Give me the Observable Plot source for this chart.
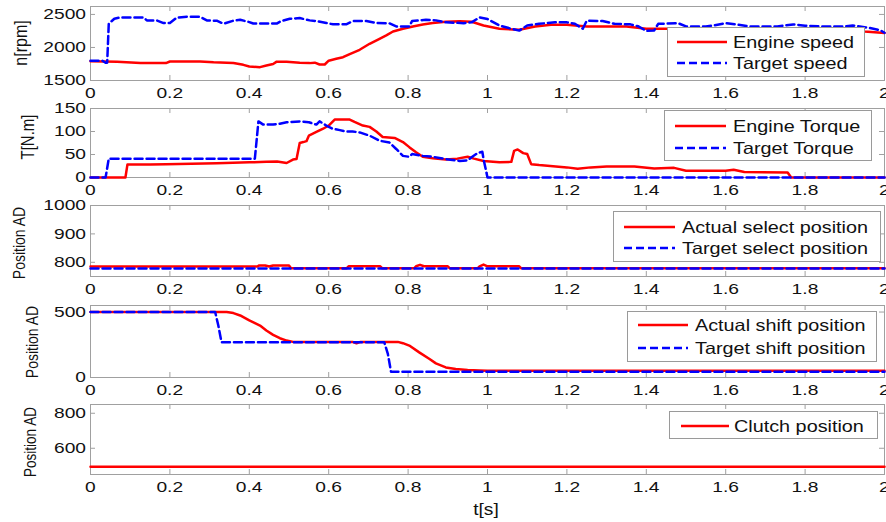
<!DOCTYPE html>
<html><head><meta charset="utf-8">
<script src="https://cdn.jsdelivr.net/npm/d3@7"></script>
<script src="https://cdn.jsdelivr.net/npm/@observablehq/plot@0.6"></script>
<style>
body{margin:0;background:#fff;}
#fig{position:relative;width:886px;height:522px;font-family:"Liberation Sans",Arial,sans-serif;overflow:hidden;background:#fff;}
.legend{position:absolute;background:#fff;border:1px solid #9a9a9a;box-sizing:border-box;}
.legend svg{position:absolute;overflow:visible;}
.legend span{position:absolute;white-space:nowrap;font-size:16.5px;line-height:1;transform-origin:left center;transform:translateY(-50%) scaleX(1.2);color:#111;}
.ytitle{position:absolute;white-space:nowrap;line-height:1;transform:translate(-50%,-50%) rotate(-90deg) scaleY(1.2);color:#111;}
.xtitle{position:absolute;white-space:nowrap;line-height:1;transform:translate(-50%,-50%) scaleX(1.2);color:#111;font-size:16px;}
</style></head><body><div id="fig"></div><script>
// ---------- data ----------
const xTicks = [0, 0.2, 0.4, 0.6, 0.8, 1, 1.2, 1.4, 1.6, 1.8, 2];
const xTickLabels = ["0", "0.2", "0.4", "0.6", "0.8", "1", "1.2", "1.4", "1.6", "1.8", "2"];

const speedTicks = [1500, 2000, 2500];
const torqueTicks = [0, 50, 100, 150];
const selectTicks = [800, 900, 1000];
const shiftTicks = [0, 500];
const clutchTicks = [600, 800];

const tEngineSpeed = [0, 0.067, 0.126, 0.19, 0.2, 0.276, 0.31, 0.36, 0.385, 0.4, 0.427, 0.443, 0.46, 0.469, 0.494, 0.527, 0.552, 0.565, 0.577, 0.59, 0.6, 0.619, 0.636, 0.653, 0.678, 0.703, 0.728, 0.745, 0.762, 0.787, 0.812, 0.837, 0.862, 0.895, 0.93, 0.96, 0.99, 1.03, 1.08, 1.12, 1.16, 1.2, 1.25, 1.35, 1.4, 1.5, 1.6, 1.7, 1.8, 1.9, 1.95, 2.0];
const engineSpeed = [1790, 1785, 1765, 1763, 1788, 1788, 1775, 1765, 1737, 1712, 1702, 1727, 1750, 1785, 1785, 1768, 1763, 1770, 1742, 1742, 1800, 1828, 1853, 1900, 1965, 2056, 2131, 2182, 2242, 2283, 2318, 2348, 2369, 2390, 2395, 2390, 2333, 2283, 2268, 2318, 2345, 2345, 2318, 2318, 2283, 2283, 2285, 2283, 2283, 2280, 2240, 2220];

const tTargetSpeed = [0, 0.03, 0.038, 0.042, 0.046, 0.06, 0.075, 0.134, 0.142, 0.167, 0.184, 0.2, 0.217, 0.243, 0.276, 0.293, 0.318, 0.335, 0.36, 0.377, 0.4, 0.41, 0.469, 0.48, 0.502, 0.527, 0.552, 0.569, 0.594, 0.611, 0.644, 0.661, 0.695, 0.72, 0.753, 0.77, 0.803, 0.81, 0.845, 0.87, 0.895, 0.94, 0.96, 0.98, 1.0, 1.03, 1.06, 1.08, 1.1, 1.13, 1.17, 1.2, 1.22, 1.24, 1.25, 1.29, 1.32, 1.36, 1.38, 1.4, 1.42, 1.43, 1.48, 1.5, 1.55, 1.57, 1.6, 1.63, 1.66, 1.73, 1.77, 1.8, 1.84, 1.9, 1.92, 1.96, 1.99, 2.0];
const targetSpeed = [1800, 1800, 1768, 1770, 2359, 2434, 2455, 2455, 2409, 2409, 2369, 2369, 2450, 2465, 2465, 2409, 2405, 2359, 2405, 2419, 2384, 2362, 2362, 2399, 2434, 2445, 2410, 2400, 2370, 2350, 2350, 2399, 2399, 2372, 2365, 2318, 2318, 2399, 2419, 2410, 2380, 2368, 2380, 2455, 2430, 2333, 2283, 2255, 2333, 2358, 2380, 2380, 2358, 2283, 2405, 2400, 2358, 2350, 2320, 2250, 2258, 2358, 2368, 2318, 2318, 2333, 2368, 2345, 2318, 2318, 2348, 2330, 2318, 2318, 2333, 2298, 2260, 2222];

const tEngineTorque = [0, 0.088, 0.093, 0.15, 0.19, 0.318, 0.4, 0.443, 0.47, 0.494, 0.51, 0.519, 0.527, 0.536, 0.544, 0.55, 0.569, 0.586, 0.6, 0.615, 0.653, 0.665, 0.686, 0.703, 0.72, 0.736, 0.766, 0.787, 0.803, 0.82, 0.837, 0.862, 0.895, 0.924, 0.95, 0.966, 0.99, 1.03, 1.06, 1.067, 1.076, 1.09, 1.1, 1.11, 1.13, 1.2, 1.227, 1.26, 1.3, 1.37, 1.42, 1.47, 1.5, 1.6, 1.62, 1.647, 1.756, 1.765, 2.0];
const engineTorque = [0, 0, 28, 28, 29, 31, 33, 34, 35, 31.5, 39, 40, 75, 77, 79, 91, 99, 106, 113, 126, 126, 121, 113, 110, 100, 88, 86, 77, 66, 55, 45, 42, 39, 41, 45, 41, 36, 33, 34, 58, 61, 53, 51, 29, 27, 22, 19, 22, 24, 24, 19.6, 21, 14.5, 14.5, 16.7, 12, 11, 0, 0];

const tTargetTorque = [0, 0.038, 0.046, 0.414, 0.423, 0.435, 0.46, 0.477, 0.494, 0.527, 0.55, 0.569, 0.577, 0.594, 0.61, 0.628, 0.644, 0.66, 0.678, 0.703, 0.728, 0.753, 0.77, 0.787, 0.803, 0.81, 0.837, 0.862, 0.895, 0.93, 0.95, 0.958, 0.975, 0.987, 0.99, 1.0, 2.0];
const targetTorque = [0, 0, 41, 41, 122, 115, 115, 117, 120, 122, 120, 115, 122, 113, 106, 103, 100, 100, 98, 91, 80, 76, 62, 47, 45, 51, 47, 45, 40, 36, 37, 43, 53, 56, 40, 0, 0];

const tActualSelect = [0, 0.42, 0.425, 0.44, 0.45, 0.46, 0.5, 0.505, 0.645, 0.65, 0.73, 0.735, 0.815, 0.82, 0.83, 0.84, 0.9, 0.905, 0.975, 0.98, 0.99, 1.0, 1.08, 1.085, 2.0];
const actualSelect = [785, 785, 789, 789, 785, 789, 789, 779, 779, 786, 786, 779, 779, 786, 791, 786, 786, 779, 779, 786, 792, 786, 786, 779, 779];
const tTargetSelect = [0, 2.0];
const targetSelect = [778, 778];

const tActualShift = [0, 0.343, 0.36, 0.377, 0.4, 0.427, 0.443, 0.46, 0.477, 0.494, 0.51, 0.66, 0.67, 0.68, 0.774, 0.787, 0.803, 0.828, 0.854, 0.87, 0.895, 0.92, 0.95, 0.98, 1.0, 2.0];
const actualShift = [500, 500, 492, 474, 436, 397, 359, 326, 300, 282, 272, 272, 262, 272, 272, 262, 244, 192, 141, 108, 77, 65, 58, 54, 52, 52];
const tTargetShift = [0, 0.314, 0.322, 0.33, 0.74, 0.749, 0.757, 2.0];
const targetShift = [500, 500, 397, 269, 269, 180, 44, 44];

const tClutch = [0, 2.0];
const clutch = [495, 495];

// ---------- build ----------
const rows = (ts, vs) => ts.map((t, i) => ({t, v: vs[i]}));
const RED = "#ff0000", BLUE = "#0000ff";
const NS = "http://www.w3.org/2000/svg";

const panels = [
  {top: 6, bottom: 80, domain: [1500, 2620], ticks: speedTicks, title: "n[rpm]", tx: 21, ty: 43, tfs: 16,
   series: [{name: "Engine speed", data: rows(tEngineSpeed, engineSpeed), color: RED},
            {name: "Target speed", data: rows(tTargetSpeed, targetSpeed), color: BLUE, dash: true}],
   legend: {l: 667, t: 27, w: 198, h: 50, rows: [15, 36], s0: 10, s1: 60, tx: 66}},
  {top: 108, bottom: 177, domain: [0, 150], ticks: torqueTicks, title: "T[N.m]", tx: 27, ty: 137, tfs: 15,
   series: [{name: "Engine Torque", data: rows(tEngineTorque, engineTorque), color: RED},
            {name: "Target Torque", data: rows(tTargetTorque, targetTorque), color: BLUE, dash: true}],
   legend: {l: 664, t: 110, w: 208, h: 51, rows: [16, 38], s0: 11, s1: 62, tx: 69}},
  {top: 205, bottom: 276, domain: [750, 1000], ticks: selectTicks, title: "Position AD", tx: 19, ty: 243, tfs: 14,
   series: [{name: "Actual select position", data: rows(tActualSelect, actualSelect), color: RED},
            {name: "Target select position", data: rows(tTargetSelect, targetSelect), color: BLUE, dash: true}],
   legend: {l: 613, t: 211, w: 268, h: 51, rows: [16, 37], s0: 11, s1: 62, tx: 69}},
  {top: 305, bottom: 377, domain: [0, 550], ticks: shiftTicks, title: "Position AD", tx: 32, ty: 342, tfs: 14,
   series: [{name: "Actual shift position", data: rows(tActualShift, actualShift), color: RED},
            {name: "Target shift position", data: rows(tTargetShift, targetShift), color: BLUE, dash: true}],
   legend: {l: 627, t: 311, w: 250, h: 51, rows: [14, 37], s0: 11, s1: 61, tx: 68}},
  {top: 404, bottom: 474, domain: [450, 850], ticks: clutchTicks, title: "Position AD", tx: 31, ty: 442, tfs: 13.5,
   series: [{name: "Clutch position", data: rows(tClutch, clutch), color: RED}],
   legend: {l: 669, t: 411, w: 209, h: 28, rows: [15], s0: 12, s1: 60, tx: 65}}
];

const fig = document.getElementById("fig");
const labelMap = new Map(xTicks.map((d, i) => [d, xTickLabels[i]]));
const GRAY = "#a0a0a0";
const MT = 4, MB = 26, ML = 90, MR = 2, W = 886, TICK = 5;

function stretch(svg, sx) {
  const sr = svg.getBoundingClientRect();
  svg.querySelectorAll('g[aria-label$="tick label"]').forEach(grp => {
    const isY = grp.getAttribute("aria-label").startsWith("y");
    Array.from(grp.querySelectorAll("text")).forEach(t => {
      const b = t.getBoundingClientRect();
      if (!b.width) return;
      const ax = (isY ? b.right : (b.left + b.right) / 2) - sr.left;
      const g = document.createElementNS(NS, "g");
      g.setAttribute("transform", `translate(${ax},0) scale(${sx},1) translate(${-ax},0)`);
      t.parentNode.insertBefore(g, t);
      g.appendChild(t);
    });
  });
}

panels.forEach(p => {
  const innerH = p.bottom - p.top;
  const innerW = W - ML - MR;
  const h = MT + innerH + MB;
  const marks = [
    // inward tick marks (Matlab style) on all four sides
    Plot.ruleX(xTicks, {stroke: GRAY, insetTop: innerH - TICK}),
    Plot.ruleX(xTicks, {stroke: GRAY, insetBottom: innerH - TICK}),
    Plot.ruleY(p.ticks, {stroke: GRAY, insetRight: innerW - TICK}),
    Plot.ruleY(p.ticks, {stroke: GRAY, insetLeft: innerW - TICK}),
    Plot.frame({stroke: GRAY}),
    Plot.axisX(xTicks, {anchor: "bottom", tickSize: 0, tickPadding: 7, tickFormat: d => labelMap.get(d), label: null, fill: "#111"}),
    Plot.axisY(p.ticks, {anchor: "left", tickSize: 0, tickPadding: 6, tickFormat: d => String(d), label: null, fill: "#111"})
  ];
  p.series.forEach(s => {
    marks.push(Plot.line(s.data, {x: "t", y: "v", stroke: s.color, strokeWidth: 2.5,
      strokeDasharray: s.dash ? "8,4" : null, strokeLinejoin: "round"}));
  });
  const svg = Plot.plot({
    width: W, height: h, marginLeft: ML, marginRight: MR, marginTop: MT, marginBottom: MB,
    x: {domain: [0, 2], label: null}, y: {domain: p.domain, label: null},
    style: {background: "transparent", overflow: "visible", fontFamily: '"Liberation Sans", Arial, sans-serif', fontSize: "15px", color: "#111"},
    marks
  });
  svg.style.position = "absolute";
  svg.style.top = (p.top - MT) + "px";
  svg.style.left = "0px";
  fig.appendChild(svg);
  stretch(svg, 1.28);

  const yt = document.createElement("div");
  yt.className = "ytitle";
  yt.textContent = p.title;
  yt.style.left = p.tx + "px"; yt.style.top = p.ty + "px"; yt.style.fontSize = p.tfs + "px";
  fig.appendChild(yt);

  const L = p.legend;
  const lg = document.createElement("div");
  lg.className = "legend";
  Object.assign(lg.style, {left: L.l + "px", top: L.t + "px", width: L.w + "px", height: L.h + "px"});
  p.series.forEach((s, i) => {
    const y = L.rows[i];
    const sv = document.createElementNS(NS, "svg");
    sv.setAttribute("width", L.s1 - L.s0); sv.setAttribute("height", 6);
    sv.style.left = (L.s0 - 1) + "px"; sv.style.top = (y - 4) + "px";
    const ln = document.createElementNS(NS, "line");
    ln.setAttribute("x1", 0); ln.setAttribute("x2", L.s1 - L.s0);
    ln.setAttribute("y1", 3); ln.setAttribute("y2", 3);
    ln.setAttribute("stroke", s.color); ln.setAttribute("stroke-width", 2.5);
    if (s.dash) ln.setAttribute("stroke-dasharray", "8,4");
    sv.appendChild(ln);
    lg.appendChild(sv);
    const sp = document.createElement("span");
    sp.textContent = s.name;
    sp.style.left = (L.tx - 1) + "px"; sp.style.top = (y - 1) + "px";
    lg.appendChild(sp);
  });
  fig.appendChild(lg);
});

const xt = document.createElement("div");
xt.className = "xtitle";
xt.textContent = "t[s]";
xt.style.left = "486px"; xt.style.top = "510px";
fig.appendChild(xt);
</script></body></html>
